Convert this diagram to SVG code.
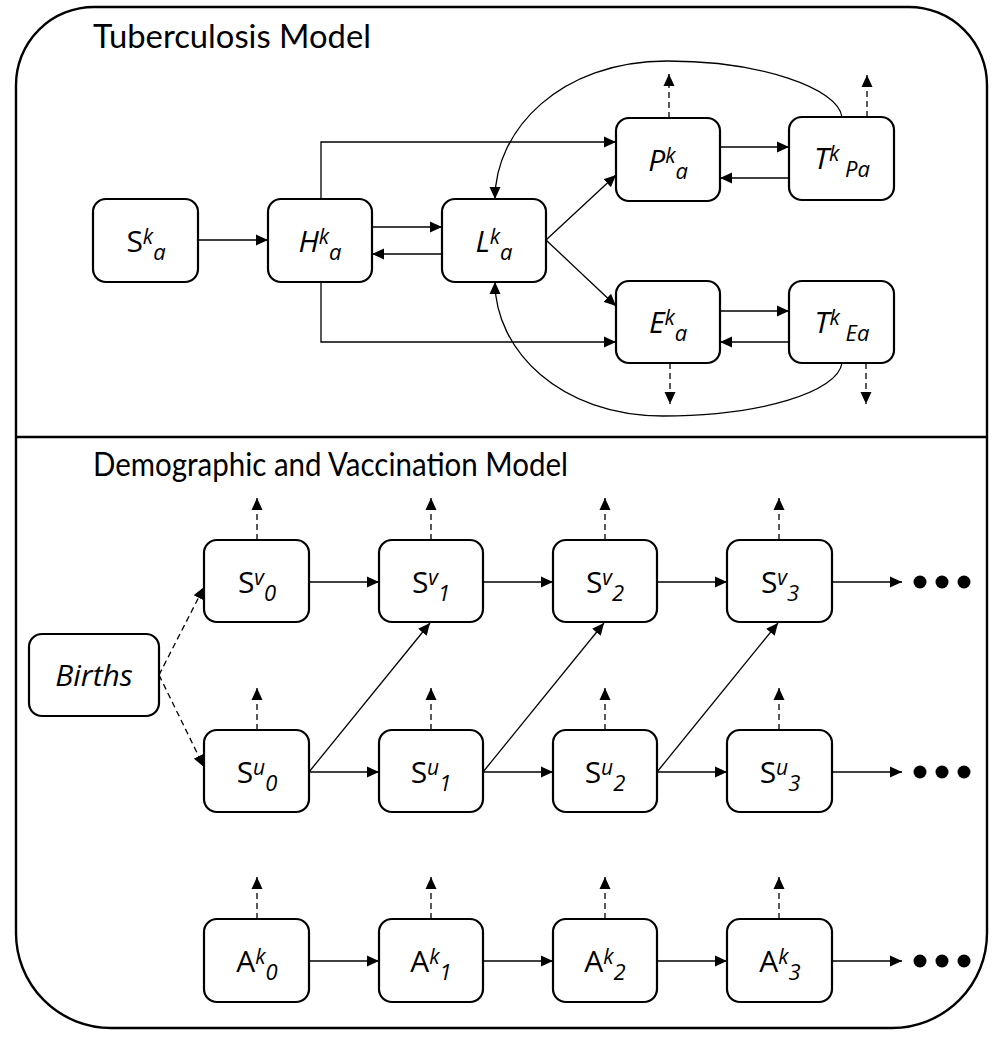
<svg xmlns="http://www.w3.org/2000/svg" width="1001" height="1038" viewBox="0 0 1001 1038">
<defs>
<marker id="ah" viewBox="0 0 12 12" refX="12" refY="6" markerWidth="12" markerHeight="12" markerUnits="userSpaceOnUse" orient="auto"><path d="M0,0.5 L12,6 L0,11.5 Z" fill="#000"/></marker>
</defs>
<style>
.frame{fill:#fff;stroke:#000;stroke-width:2.4}
.box{fill:#fff;stroke:#000;stroke-width:2.2}
.ln{fill:none;stroke:#000;stroke-width:1.3;marker-end:url(#ah)}
.dash{stroke-dasharray:6 4}
.title{font-family:Lato,"Open Sans","Liberation Sans",sans-serif;font-size:32px;fill:#000}
.lab{font-family:"Open Sans","Noto Sans","Liberation Sans",sans-serif;font-size:30px;fill:#000;text-anchor:middle}
.it{font-style:italic}
.sup{font-style:italic;font-size:21px}
.sub{font-style:italic;font-size:22px}
</style>
<rect width="1001" height="1038" fill="#fff"/>
<g id="frame">
<path class="frame" d="M94,7 H909 A78,78 0 0 1 987,85 V933 A95,95 0 0 1 892,1028 H111 A95,95 0 0 1 16,933 V85 A78,78 0 0 1 94,7 Z"/>
<line x1="16" y1="437" x2="987" y2="437" stroke="#000" stroke-width="2.4"/>
<text class="title" x="93" y="48" textLength="278" lengthAdjust="spacingAndGlyphs">Tuberculosis Model</text>
<text class="title" x="93" y="476" textLength="475" lengthAdjust="spacingAndGlyphs">Demographic and Vaccination Model</text>
</g>
<g id="connectors">
<line class="ln" x1="198" y1="240" x2="268" y2="240"/>
<line class="ln" x1="372" y1="227" x2="442" y2="227"/>
<line class="ln" x1="442" y1="254" x2="372" y2="254"/>
<path class="ln" d="M321,199 V142 H616"/>
<path class="ln" d="M321,282 V342 H616"/>
<line class="ln" x1="546" y1="240" x2="616" y2="175"/>
<line class="ln" x1="546" y1="240" x2="616" y2="306"/>
<line class="ln" x1="720" y1="147" x2="789" y2="147"/>
<line class="ln" x1="789" y1="178" x2="720" y2="178"/>
<line class="ln" x1="720" y1="311" x2="789" y2="311"/>
<line class="ln" x1="789" y1="342" x2="720" y2="342"/>
<line class="ln dash" x1="669" y1="118" x2="669" y2="74"/>
<line class="ln dash" x1="867" y1="117" x2="867" y2="75"/>
<line class="ln dash" x1="670" y1="363" x2="670" y2="404"/>
<line class="ln dash" x1="866" y1="363" x2="866" y2="404"/>
<path class="ln" d="M842,117 C838,88 760,61 667,61 C560,61 495,130 495,199"/>
<path class="ln" d="M842,363 C838,392 760,416 663,416 C560,416 495,350 495,282"/>

<line class="ln dash" x1="159" y1="675" x2="204" y2="587"/>
<line class="ln dash" x1="159" y1="675" x2="204" y2="767"/>

<line class="ln" x1="309" y1="582" x2="379" y2="582"/>
<line class="ln" x1="483" y1="582" x2="553" y2="582"/>
<line class="ln" x1="657" y1="582" x2="727" y2="582"/>
<line class="ln" x1="832" y1="582" x2="902" y2="582"/>
<line class="ln" x1="309" y1="772" x2="379" y2="772"/>
<line class="ln" x1="483" y1="772" x2="553" y2="772"/>
<line class="ln" x1="657" y1="772" x2="727" y2="772"/>
<line class="ln" x1="832" y1="772" x2="902" y2="772"/>
<line class="ln" x1="309" y1="961" x2="379" y2="961"/>
<line class="ln" x1="483" y1="961" x2="553" y2="961"/>
<line class="ln" x1="657" y1="961" x2="727" y2="961"/>
<line class="ln" x1="832" y1="961" x2="902" y2="961"/>

<line class="ln" x1="309" y1="772" x2="430" y2="623"/>
<line class="ln" x1="483" y1="772" x2="604" y2="623"/>
<line class="ln" x1="657" y1="772" x2="778" y2="623"/>

<line class="ln dash" x1="257" y1="540" x2="257" y2="498"/>
<line class="ln dash" x1="431" y1="540" x2="431" y2="498"/>
<line class="ln dash" x1="605" y1="540" x2="605" y2="498"/>
<line class="ln dash" x1="779" y1="540" x2="779" y2="498"/>
<line class="ln dash" x1="257" y1="730" x2="257" y2="688"/>
<line class="ln dash" x1="431" y1="730" x2="431" y2="688"/>
<line class="ln dash" x1="605" y1="730" x2="605" y2="688"/>
<line class="ln dash" x1="779" y1="730" x2="779" y2="688"/>
<line class="ln dash" x1="257" y1="919" x2="257" y2="877"/>
<line class="ln dash" x1="431" y1="919" x2="431" y2="877"/>
<line class="ln dash" x1="605" y1="919" x2="605" y2="877"/>
<line class="ln dash" x1="779" y1="919" x2="779" y2="877"/>
</g>
<g id="dots" fill="#000">
<circle cx="920" cy="582" r="6.5"/><circle cx="942" cy="582" r="6.5"/><circle cx="964" cy="582" r="6.5"/>
<circle cx="920" cy="772" r="6.5"/><circle cx="942" cy="772" r="6.5"/><circle cx="964" cy="772" r="6.5"/>
<circle cx="920" cy="961" r="6.5"/><circle cx="942" cy="961" r="6.5"/><circle cx="964" cy="961" r="6.5"/>
</g>

<g id="node-S"><rect class="box" x="93" y="199" width="105" height="83" rx="13"/><text class="lab" x="146" y="252">S<tspan class="sup" dy="-8">k</tspan><tspan class="sub" dy="16">a</tspan></text></g>
<g id="node-H"><rect class="box" x="268" y="199" width="104" height="83" rx="13"/><text class="lab" x="320" y="252"><tspan class="it">H</tspan><tspan class="sup" dy="-8">k</tspan><tspan class="sub" dy="16">a</tspan></text></g>
<g id="node-L"><rect class="box" x="442" y="199" width="104" height="83" rx="13"/><text class="lab" x="494" y="252"><tspan class="it">L</tspan><tspan class="sup" dy="-8">k</tspan><tspan class="sub" dy="16">a</tspan></text></g>
<g id="node-P"><rect class="box" x="616" y="118" width="104" height="83" rx="13"/><text class="lab" x="668" y="171"><tspan class="it">P</tspan><tspan class="sup" dy="-8">k</tspan><tspan class="sub" dy="16">a</tspan></text></g>
<g id="node-TPa"><rect class="box" x="789" y="117" width="105" height="83" rx="13"/><text class="lab" x="842" y="169"><tspan class="it">T</tspan><tspan class="sup" dy="-8">k</tspan><tspan class="sub" dy="16"> Pa</tspan></text></g>
<g id="node-E"><rect class="box" x="616" y="281" width="104" height="82" rx="13"/><text class="lab" x="668" y="333"><tspan class="it">E</tspan><tspan class="sup" dy="-8">k</tspan><tspan class="sub" dy="16">a</tspan></text></g>
<g id="node-TEa"><rect class="box" x="789" y="281" width="105" height="82" rx="13"/><text class="lab" x="842" y="333"><tspan class="it">T</tspan><tspan class="sup" dy="-8">k</tspan><tspan class="sub" dy="16"> Ea</tspan></text></g>

<g id="node-Births"><rect class="box" x="29" y="634" width="130" height="82" rx="13"/><text class="lab it" x="94" y="686">Births</text></g>

<g id="node-Sv0"><rect class="box" x="204" y="540" width="105" height="82" rx="13"/><text class="lab" x="257" y="593">S<tspan class="sup" dy="-8">v</tspan><tspan class="sub" dy="16">0</tspan></text></g>
<g id="node-Sv1"><rect class="box" x="379" y="540" width="104" height="82" rx="13"/><text class="lab" x="431" y="593">S<tspan class="sup" dy="-8">v</tspan><tspan class="sub" dy="16">1</tspan></text></g>
<g id="node-Sv2"><rect class="box" x="553" y="540" width="104" height="82" rx="13"/><text class="lab" x="605" y="593">S<tspan class="sup" dy="-8">v</tspan><tspan class="sub" dy="16">2</tspan></text></g>
<g id="node-Sv3"><rect class="box" x="727" y="540" width="105" height="82" rx="13"/><text class="lab" x="780" y="593">S<tspan class="sup" dy="-8">v</tspan><tspan class="sub" dy="16">3</tspan></text></g>

<g id="node-Su0"><rect class="box" x="204" y="730" width="105" height="82" rx="13"/><text class="lab" x="257" y="783">S<tspan class="sup" dy="-8">u</tspan><tspan class="sub" dy="16">0</tspan></text></g>
<g id="node-Su1"><rect class="box" x="379" y="730" width="104" height="82" rx="13"/><text class="lab" x="431" y="783">S<tspan class="sup" dy="-8">u</tspan><tspan class="sub" dy="16">1</tspan></text></g>
<g id="node-Su2"><rect class="box" x="553" y="730" width="104" height="82" rx="13"/><text class="lab" x="605" y="783">S<tspan class="sup" dy="-8">u</tspan><tspan class="sub" dy="16">2</tspan></text></g>
<g id="node-Su3"><rect class="box" x="727" y="730" width="105" height="82" rx="13"/><text class="lab" x="780" y="783">S<tspan class="sup" dy="-8">u</tspan><tspan class="sub" dy="16">3</tspan></text></g>

<g id="node-A0"><rect class="box" x="204" y="919" width="105" height="83" rx="13"/><text class="lab" x="257" y="972">A<tspan class="sup" dy="-8">k</tspan><tspan class="sub" dy="16">0</tspan></text></g>
<g id="node-A1"><rect class="box" x="379" y="919" width="104" height="83" rx="13"/><text class="lab" x="431" y="972">A<tspan class="sup" dy="-8">k</tspan><tspan class="sub" dy="16">1</tspan></text></g>
<g id="node-A2"><rect class="box" x="553" y="919" width="104" height="83" rx="13"/><text class="lab" x="605" y="972">A<tspan class="sup" dy="-8">k</tspan><tspan class="sub" dy="16">2</tspan></text></g>
<g id="node-A3"><rect class="box" x="727" y="919" width="105" height="83" rx="13"/><text class="lab" x="780" y="972">A<tspan class="sup" dy="-8">k</tspan><tspan class="sub" dy="16">3</tspan></text></g>
</svg>
